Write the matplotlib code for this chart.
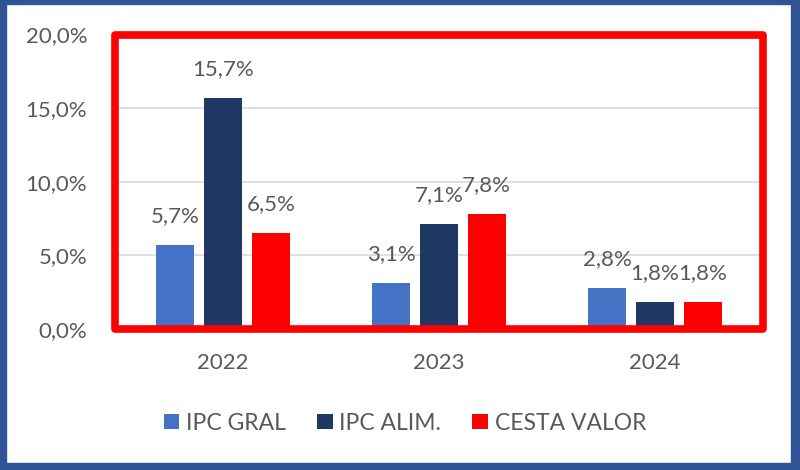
import matplotlib
matplotlib.use('Agg')
import matplotlib.pyplot as plt
import numpy as np
from matplotlib.patches import Rectangle

years = ['2022', '2023', '2024']
series = ['IPC GRAL', 'IPC ALIM.', 'CESTA VALOR']
ipc_gral = [5.7, 3.1, 2.8]
ipc_alim = [15.7, 7.1, 1.8]
cesta_valor = [6.5, 7.8, 1.8]
colors = ['#4472C4', '#203864', '#FF0000']
yticks = [0, 5, 10, 15, 20]

plt.rcParams['font.family'] = ['Lato', 'DejaVu Sans']
txt = '#595959'
fs = 16

fig = plt.figure(figsize=(8, 4.7), dpi=100)
W, H = 800, 470
ax = fig.add_axes([115 / W, 1 - 329 / H, 648 / W, 294.5 / H])

x = np.arange(len(years))
step = 0.221
width = 0.175
for i, (name, vals) in enumerate(zip(series, [ipc_gral, ipc_alim, cesta_valor])):
    bars = ax.bar(x + (i - 1) * step, vals, width, color=colors[i], label=name, zorder=3)
    for b, v in zip(bars, vals):
        ax.annotate(('%.1f%%' % v).replace('.', ','),
                    (b.get_x() + b.get_width() / 2, v),
                    xytext=(0, 21), textcoords='offset points',
                    ha='center', va='center', fontsize=fs, color=txt)

ax.set_xlim(-0.5, 2.5)
ax.set_ylim(0, 20)
ax.set_yticks(yticks)
ax.set_yticklabels([('%.1f%%' % t).replace('.', ',') for t in yticks])
ax.set_xticks(x)
ax.set_xticklabels(years)
ax.tick_params(axis='y', length=0, pad=20, labelsize=fs, labelcolor=txt)
ax.tick_params(axis='x', length=0, pad=17, labelsize=fs, labelcolor=txt)
ax.grid(axis='y', color='#D9D9D9', linewidth=1.2, zorder=0)
for s in ax.spines.values():
    s.set_visible(False)

# red highlight frame
ax.add_patch(Rectangle((0, 0), 1, 1, transform=ax.transAxes, fill=False,
                       edgecolor='#FF0000', linewidth=5.5, joinstyle='round',
                       clip_on=False, zorder=5))

leg = fig.legend(loc='center', bbox_to_anchor=(405 / W, 1 - 423 / H), ncol=3,
                 frameon=False, fontsize=16.5, handlelength=0.68, handleheight=0.68,
                 handletextpad=0.3, columnspacing=1.35, labelcolor=txt)

# blue outer border
bc = '#2F5597'
for (x0, y0, w, h) in [(0, 0, 6, H), (791, 0, 9, H), (0, 0, W, 4), (0, 463, W, 7)]:
    fig.patches.append(Rectangle((x0 / W, 1 - (y0 + h) / H), w / W, h / H,
                                 transform=fig.transFigure, color=bc, zorder=10))

fig.savefig('out.png', dpi=100)
